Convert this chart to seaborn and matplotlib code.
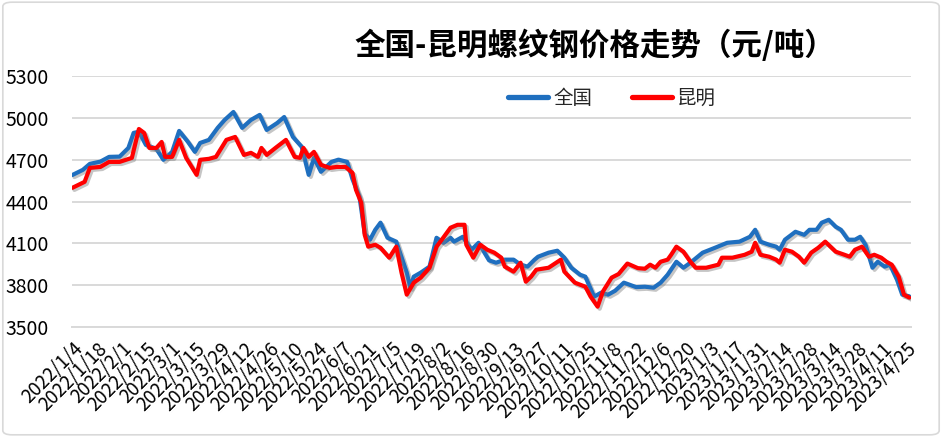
import matplotlib
matplotlib.use('Agg')
import matplotlib.pyplot as plt
import matplotlib.patheffects as pe
from matplotlib.patches import FancyBboxPatch
from matplotlib.ticker import FuncFormatter
import pandas as pd
import seaborn as sns

# 全国 (national average) rebar price, yuan/ton
nat_dates = [
    '2022-01-04', '2022-01-10', '2022-01-14', '2022-01-20', '2022-01-25', '2022-01-31',
    '2022-02-05', '2022-02-08', '2022-02-11', '2022-02-15', '2022-02-21', '2022-02-25',
    '2022-03-02', '2022-03-06', '2022-03-11', '2022-03-15', '2022-03-18', '2022-03-23',
    '2022-03-28', '2022-04-01', '2022-04-06', '2022-04-11', '2022-04-16', '2022-04-21',
    '2022-04-25', '2022-05-01', '2022-05-05', '2022-05-10', '2022-05-15', '2022-05-19',
    '2022-05-22', '2022-05-26', '2022-06-01', '2022-06-05', '2022-06-10', '2022-06-13',
    '2022-06-17', '2022-06-20', '2022-06-23', '2022-06-26', '2022-06-29', '2022-07-03',
    '2022-07-08', '2022-07-14', '2022-07-16', '2022-07-18', '2022-07-22', '2022-07-27',
    '2022-07-31', '2022-08-04', '2022-08-08', '2022-08-10', '2022-08-15', '2022-08-20',
    '2022-08-24', '2022-08-30', '2022-09-03', '2022-09-08', '2022-09-13', '2022-09-17',
    '2022-09-21', '2022-09-25', '2022-09-27', '2022-10-03', '2022-10-08', '2022-10-12',
    '2022-10-16', '2022-10-21', '2022-10-24', '2022-10-26', '2022-10-29', '2022-11-02',
    '2022-11-06', '2022-11-10', '2022-11-15', '2022-11-22', '2022-11-27', '2022-12-02',
    '2022-12-06', '2022-12-10', '2022-12-15', '2022-12-19', '2022-12-23', '2022-12-30',
    '2023-01-06', '2023-01-13', '2023-01-20', '2023-01-26', '2023-01-29', '2023-02-01',
    '2023-02-06', '2023-02-10', '2023-02-12', '2023-02-15', '2023-02-21', '2023-02-26',
    '2023-03-01', '2023-03-05', '2023-03-08', '2023-03-12', '2023-03-16', '2023-03-19',
    '2023-03-23', '2023-03-27', '2023-03-30', '2023-04-02', '2023-04-06', '2023-04-09',
    '2023-04-13', '2023-04-16', '2023-04-20', '2023-04-23', '2023-04-27',
]
nat_price = [
    4590, 4627, 4670, 4686, 4720, 4722,
    4784, 4892, 4900, 4806, 4777, 4699,
    4756, 4906, 4828, 4756, 4820, 4842,
    4928, 4985, 5042, 4928, 4985, 5021,
    4913, 4963, 5006, 4863, 4792, 4591,
    4713, 4613, 4684, 4700, 4684, 4560,
    4434, 4170, 4126, 4197, 4248, 4140,
    4112, 3890, 3782, 3861, 3890, 3933,
    4140, 4104, 4140, 4112, 4147, 4054,
    4104, 3978, 3961, 3983, 3983, 3947,
    3933, 3983, 4004, 4033, 4047, 3997,
    3925, 3875, 3861, 3804, 3718, 3746,
    3732, 3760, 3818, 3786, 3789, 3782,
    3818, 3875, 3968, 3925, 3961, 4033,
    4068, 4104, 4112, 4147, 4197, 4112,
    4090, 4076, 4054, 4126, 4183, 4161,
    4197, 4197, 4248, 4269, 4219, 4197,
    4126, 4126, 4147, 4090, 3925, 3968,
    3933, 3947, 3839, 3732, 3720,
]

# 昆明 (Kunming) rebar price, yuan/ton
km_dates = [
    '2022-01-04', '2022-01-11', '2022-01-14', '2022-01-20', '2022-01-25', '2022-01-31',
    '2022-02-07', '2022-02-11', '2022-02-14', '2022-02-17', '2022-02-21', '2022-02-24',
    '2022-02-26', '2022-03-02', '2022-03-06', '2022-03-10', '2022-03-16', '2022-03-18',
    '2022-03-23', '2022-03-27', '2022-04-02', '2022-04-07', '2022-04-12', '2022-04-16',
    '2022-04-20', '2022-04-22', '2022-04-25', '2022-04-30', '2022-05-06', '2022-05-11',
    '2022-05-14', '2022-05-16', '2022-05-19', '2022-05-22', '2022-05-26', '2022-05-31',
    '2022-06-04', '2022-06-09', '2022-06-13', '2022-06-15', '2022-06-18', '2022-06-20',
    '2022-06-22', '2022-06-26', '2022-06-29', '2022-07-04', '2022-07-08', '2022-07-11',
    '2022-07-14', '2022-07-18', '2022-07-22', '2022-07-27', '2022-07-31', '2022-08-03',
    '2022-08-08', '2022-08-12', '2022-08-16', '2022-08-17', '2022-08-21', '2022-08-25',
    '2022-08-29', '2022-09-02', '2022-09-06', '2022-09-08', '2022-09-13', '2022-09-17',
    '2022-09-20', '2022-09-23', '2022-09-26', '2022-10-03', '2022-10-10', '2022-10-12',
    '2022-10-18', '2022-10-24', '2022-10-27', '2022-10-31', '2022-11-03', '2022-11-08',
    '2022-11-12', '2022-11-17', '2022-11-23', '2022-11-27', '2022-11-30', '2022-12-03',
    '2022-12-06', '2022-12-10', '2022-12-12', '2022-12-15', '2022-12-19', '2022-12-23',
    '2022-12-26', '2023-01-01', '2023-01-08', '2023-01-10', '2023-01-16', '2023-01-23',
    '2023-01-27', '2023-01-29', '2023-02-01', '2023-02-06', '2023-02-10', '2023-02-12',
    '2023-02-15', '2023-02-19', '2023-02-23', '2023-02-26', '2023-03-02', '2023-03-06',
    '2023-03-10', '2023-03-13', '2023-03-16', '2023-03-21', '2023-03-24', '2023-03-27',
    '2023-03-31', '2023-04-04', '2023-04-07', '2023-04-11', '2023-04-14', '2023-04-17',
    '2023-04-21', '2023-04-24', '2023-04-27',
]
km_price = [
    4498, 4541, 4641, 4648, 4684, 4684,
    4713, 4920, 4892, 4784, 4784, 4827,
    4720, 4720, 4842, 4713, 4591, 4699,
    4706, 4720, 4842, 4863, 4734, 4749,
    4720, 4784, 4734, 4784, 4842, 4720,
    4713, 4784, 4720, 4756, 4663, 4641,
    4648, 4648, 4605, 4484, 4391, 4160,
    4076, 4090, 4068, 3997, 4076, 3890,
    3732, 3818, 3854, 3925, 4076, 4126,
    4212, 4233, 4233, 4090, 3997, 4090,
    4054, 4033, 3997, 3933, 3897, 3961,
    3825, 3861, 3911, 3925, 3983, 3897,
    3818, 3789, 3718, 3646, 3754, 3854,
    3880, 3955, 3922, 3918, 3947, 3925,
    3968, 3983, 4018, 4076, 4040, 3968,
    3925, 3925, 3947, 3997, 3997, 4018,
    4040, 4104, 4018, 4004, 3983, 3961,
    4054, 4040, 4004, 3961, 4033, 4068,
    4112, 4076, 4040, 4018, 4004, 4054,
    4076, 4004, 4018, 3997, 3968, 3947,
    3861, 3732, 3711,
]

series_names = ['全国', '昆明']
series_colors = ['#1f6fbf', '#ff0000']
title_text = '全国-昆明螺纹钢价格走势（元/吨）'
y_ticks = [3500, 3800, 4100, 4400, 4700, 5000, 5300]
first_label = '2022-01-04'
last_label = '2023-04-25'
x_end = '2023-04-28'

df = pd.concat([
    pd.DataFrame({'date': pd.to_datetime(nat_dates), 'price': nat_price, 'series': series_names[0]}),
    pd.DataFrame({'date': pd.to_datetime(km_dates), 'price': km_price, 'series': series_names[1]}),
], ignore_index=True)

sns.set_style('white')
plt.rcParams['font.family'] = ['Noto Sans CJK SC', 'DejaVu Sans']

fig = plt.figure(figsize=(9.42, 4.37), dpi=100)
ax = fig.add_axes([0.0768, 0.2517, 0.8903, 0.5744])

shadow = [pe.SimpleLineShadow(offset=(1.5, -1.5), shadow_color='#808080', alpha=0.45),
          pe.Normal()]
sns.lineplot(data=df, x='date', y='price', hue='series', hue_order=series_names,
             palette=series_colors, linewidth=3.0, estimator=None, ax=ax, legend=False,
             path_effects=shadow)

ax.set_ylim(y_ticks[0], y_ticks[-1])
ax.set_yticks(y_ticks)
ax.set_xlim(pd.Timestamp(first_label), pd.Timestamp(x_end))
ticks = pd.date_range(first_label, last_label, freq='14D')
ax.set_xticks(ticks)
ax.xaxis.set_major_formatter(FuncFormatter(
    lambda v, p: (lambda d: f'{d.year}/{d.month}/{d.day}')(matplotlib.dates.num2date(v))))
ax.set_xlabel('')
ax.set_ylabel('')

ax.grid(axis='y', color='#d9d9d9', linewidth=1.4)
ax.set_axisbelow(True)
for side in ['left', 'right', 'top']:
    ax.spines[side].set_visible(False)
ax.spines['bottom'].set_color('#d9d9d9')
ax.spines['bottom'].set_linewidth(1.4)
ax.tick_params(axis='x', which='major', direction='out', length=5, width=1.2,
               color='#d9d9d9', labelsize=13.5, pad=3, labelcolor='#000000')
ax.tick_params(axis='y', length=0, labelsize=14, pad=17, labelcolor='#000000')
for lab in ax.get_xticklabels():
    lab.set_rotation(45)
    lab.set_ha('right')
    lab.set_rotation_mode('anchor')

fig.text(0.6316, 0.895, title_text, ha='center', va='center', fontsize=22,
         fontweight='bold', color='#000000')

handles = [plt.Line2D([], [], color=c, linewidth=3.8, solid_capstyle='round')
           for c in series_colors]
ax.legend(handles, series_names, loc='center', bbox_to_anchor=(0.6435, 0.912),
          ncol=2, frameon=False, fontsize=14, handlelength=2.05, handletextpad=0.25,
          columnspacing=2.05, borderaxespad=0, borderpad=0)

fig.patches.append(FancyBboxPatch((0.003, 0.005), 0.994, 0.99,
                                  boxstyle='round,pad=0,rounding_size=0.01',
                                  transform=fig.transFigure, fill=False,
                                  edgecolor='#d9d9d9', linewidth=1.2))

fig.savefig('out.png', dpi=100)
